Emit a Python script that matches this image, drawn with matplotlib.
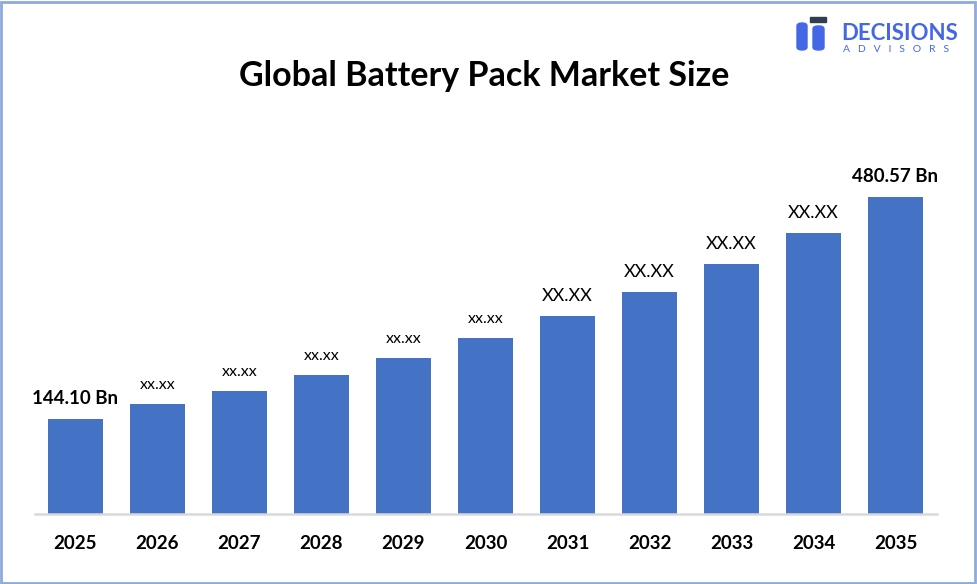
import matplotlib.pyplot as plt
from matplotlib.patches import Rectangle, FancyBboxPatch

# ---------------------------------------------------------------------
# Data
# ---------------------------------------------------------------------
years = ["2025", "2026", "2027", "2028", "2029", "2030",
         "2031", "2032", "2033", "2034", "2035"]
market_size = [144.10, 166.7, 186.5, 210.7, 236.5, 266.8,
               300.2, 336.5, 379.0, 426.0, 480.57]
bar_labels = ["144.10 Bn", "xx.xx", "xx.xx", "xx.xx", "xx.xx", "xx.xx",
              "XX.XX", "XX.XX", "XX.XX", "XX.XX", "480.57 Bn"]

BAR_COLOR = "#4472C4"
LOGO_BLUE = "#4467E6"

plt.rcParams["font.family"] = ["Lato", "DejaVu Sans"]

fig = plt.figure(figsize=(9.77, 5.84), dpi=100)
W, H = 977, 584
ax = fig.add_axes([34.5 / W, (H - 514) / H, 902 / W, 414 / H])

x = range(len(years))
bars = ax.bar(x, market_size, width=0.67, color=BAR_COLOR, zorder=2)

ax.set_xlim(-0.5, len(years) - 0.5)
ax.set_ylim(0, 414 * 480.57 / 317)

for i, (b, lab) in enumerate(zip(bars, bar_labels)):
    if lab.endswith("Bn"):
        fs, fw = 13.5, "bold"
    elif lab.isupper():
        fs, fw = 13, "normal"
    else:
        fs, fw = 11.5, "normal"
    ax.annotate(lab, (b.get_x() + b.get_width() / 2, b.get_height()),
                xytext=(0, 10.5), textcoords="offset points",
                ha="center", va="baseline", fontsize=fs, fontweight=fw,
                color="black")

ax.set_xticks(list(x))
ax.set_xticklabels(years, fontsize=13.5, fontweight="bold")
ax.tick_params(axis="x", length=0, pad=15)
ax.set_yticks([])
for s in ["top", "right", "left"]:
    ax.spines[s].set_visible(False)
ax.spines["bottom"].set_color("#D9D9D9")
ax.spines["bottom"].set_linewidth(1.8)

# Title
fig.text(484 / W, 1 - 76 / H, "Global Battery Pack Market Size",
         ha="center", va="center", fontsize=24.5, fontweight="bold")

# Logo (simplified)
fig.patches.append(FancyBboxPatch((797 / W, 1 - 50 / H), 10 / W, 27 / H,
                                  boxstyle="round,pad=0,rounding_size=0.005",
                                  transform=fig.transFigure, color=LOGO_BLUE))
fig.patches.append(FancyBboxPatch((813 / W, 1 - 50 / H), 11 / W, 24 / H,
                                  boxstyle="round,pad=0,rounding_size=0.005",
                                  transform=fig.transFigure, color=LOGO_BLUE))
fig.patches.append(Rectangle((810 / W, 1 - 22 / H), 16 / W, 5 / H,
                             transform=fig.transFigure, color="#2F3F4F"))
fig.text(841 / W, 1 - 33 / H, "DECISIONS", ha="left", va="center",
         fontsize=16, fontweight="bold", color=LOGO_BLUE)
fig.text(843 / W, 1 - 49 / H, "A   D   V   I   S   O   R   S", ha="left",
         va="center", fontsize=7.5, color=LOGO_BLUE)

# Border
fig.patches.append(Rectangle((1 / W, 1 / H), (W - 3) / W, (H - 3) / H,
                             transform=fig.transFigure, fill=False,
                             edgecolor="#8EA9DB", linewidth=2))

fig.savefig("out.png", dpi=100)
